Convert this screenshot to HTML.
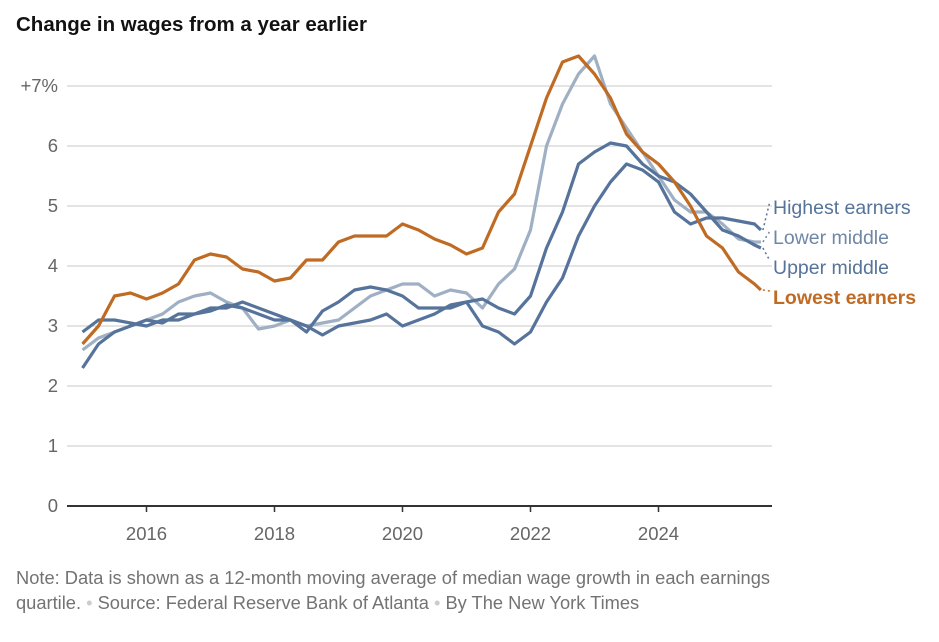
<!DOCTYPE html>
<html><head><meta charset="utf-8"><style>
body{margin:0;background:#fff;width:939px;height:642px;overflow:hidden;font-family:"Liberation Sans",sans-serif}
svg{position:absolute;left:0;top:0}
</style></head><body>
<svg id="chart" width="939" height="642">
<text x="16" y="31" font-size="20.5" font-weight="bold" fill="#121212">Change in wages from a year earlier</text>
<g id="grid"></g><g id="lines"></g><g id="labels"></g>
<text x="16" y="584" font-size="18.3" fill="#737373">Note: Data is shown as a 12-month moving average of median wage growth in each earnings</text>
<text x="16" y="609" font-size="18.3" fill="#737373">quartile. <tspan fill="#ccc">•</tspan> Source: Federal Reserve Bank of Atlanta <tspan fill="#ccc">•</tspan> By The New York Times</text>
</svg>
<script>
const dates=[2015,2015.25,2015.5,2015.75,2016,2016.25,2016.5,2016.75,2017,2017.25,2017.5,2017.75,2018,2018.25,2018.5,2018.75,2019,2019.25,2019.5,2019.75,2020,2020.25,2020.5,2020.75,2021,2021.25,2021.5,2021.75,2022,2022.25,2022.5,2022.75,2023,2023.25,2023.5,2023.75,2024,2024.25,2024.5,2024.75,2025,2025.25,2025.5,2025.6];
const lowest=[2.7,3.0,3.5,3.55,3.45,3.55,3.7,4.1,4.2,4.15,3.95,3.9,3.75,3.8,4.1,4.1,4.4,4.5,4.5,4.5,4.7,4.6,4.45,4.35,4.2,4.3,4.9,5.2,6.0,6.8,7.4,7.5,7.2,6.8,6.2,5.9,5.7,5.4,5.0,4.5,4.3,3.9,3.7,3.6];
const lowerMiddle=[2.6,2.8,2.9,3.0,3.1,3.2,3.4,3.5,3.55,3.4,3.3,2.95,3.0,3.1,3.0,3.05,3.1,3.3,3.5,3.6,3.7,3.7,3.5,3.6,3.55,3.3,3.7,3.95,4.6,6.0,6.7,7.2,7.5,6.7,6.3,5.9,5.5,5.1,4.9,4.9,4.7,4.45,4.4,4.4];
const upperMiddle=[2.3,2.7,2.9,3.0,3.1,3.05,3.2,3.2,3.25,3.35,3.3,3.2,3.1,3.1,2.9,3.25,3.4,3.6,3.65,3.6,3.5,3.3,3.3,3.3,3.4,3.45,3.3,3.2,3.5,4.3,4.9,5.7,5.9,6.05,6.0,5.7,5.5,5.4,5.2,4.9,4.6,4.5,4.35,4.3];
const highest=[2.9,3.1,3.1,3.05,3.0,3.1,3.1,3.2,3.3,3.3,3.4,3.3,3.2,3.1,3.0,2.85,3.0,3.05,3.1,3.2,3.0,3.1,3.2,3.35,3.4,3.0,2.9,2.7,2.9,3.4,3.8,4.5,5.0,5.4,5.7,5.6,5.4,4.9,4.7,4.8,4.8,4.75,4.7,4.6];
const yTicks=[0,1,2,3,4,5,6,7];
const yTickLabels=["0","1","2","3","4","5","6","+7%"];
const xTicks=[2016,2018,2020,2022,2024];
const NS="http://www.w3.org/2000/svg";
const X=yr=>146.5+(yr-2016)*64;
const Y=v=>506-v*60;
function mk(tag,attrs,parent,text){const e=document.createElementNS(NS,tag);for(const k in attrs)e.setAttribute(k,attrs[k]);if(text!==undefined)e.textContent=text;parent.appendChild(e);return e;}
const grid=document.getElementById('grid'),lines=document.getElementById('lines'),labels=document.getElementById('labels');
yTicks.forEach((t,i)=>{
  if(t>0){const g=mk('line',{x1:67,x2:772,y1:Y(t),y2:Y(t),stroke:'#dcdcdc','stroke-width':1.5},grid);
  
  }
  const l=mk('text',{x:58,y:Y(t)+6,'font-size':18.5,fill:'#666','text-anchor':'end'},grid,yTickLabels[i]);
  
  
});
const base=mk('line',{x1:67,x2:772,y1:Y(0),y2:Y(0),stroke:'#333','stroke-width':2},grid);


xTicks.forEach(t=>{
  const tk=mk('line',{x1:X(t),x2:X(t),y1:Y(0),y2:Y(0)+6,stroke:'#333','stroke-width':1.5},grid);
  
  
  const l=mk('text',{x:X(t),y:Y(0)+34,'font-size':18.5,fill:'#666','text-anchor':'middle'},grid,String(t));
  
  
});
const series=[
 {vals:lowerMiddle,color:'#9fb0c4',name:'line-lower-middle'},
 {vals:highest,color:'#56739b',name:'line-highest-earners'},
 {vals:upperMiddle,color:'#56739b',name:'line-upper-middle'},
 {vals:lowest,color:'#c06b24',name:'line-lowest-earners'}];
series.forEach(s=>{
  const d=s.vals.map((v,i)=>(i?'L':'M')+X(dates[i]).toFixed(1)+','+Y(v).toFixed(1)).join('');
  const p=mk('path',{d:d,fill:'none',stroke:s.color,'stroke-width':3.2,'stroke-linejoin':'round'},lines);
  
  
});
const legend=[
 {text:'Highest earners',vals:highest,color:'#56739b',ly:207,bold:false},
 {text:'Lower middle',vals:lowerMiddle,color:'#6f87a6',ly:237,bold:false},
 {text:'Upper middle',vals:upperMiddle,color:'#56739b',ly:267,bold:false},
 {text:'Lowest earners',vals:lowest,color:'#c06b24',ly:297,bold:true}];
legend.forEach(e=>{
  const last=e.vals[e.vals.length-1],lx=X(dates[dates.length-1]);
  const ld=mk('line',{x1:lx+2,y1:Y(last),x2:770,y2:e.ly-6,stroke:e.color,'stroke-width':1.5,'stroke-dasharray':'2,3'},labels);
  
  
  const t=mk('text',{x:773,y:e.ly+7,'font-size':19.5,fill:e.color,'font-weight':e.bold?'bold':'normal'},labels,e.text);
  
  
});
</script>
</body></html>
